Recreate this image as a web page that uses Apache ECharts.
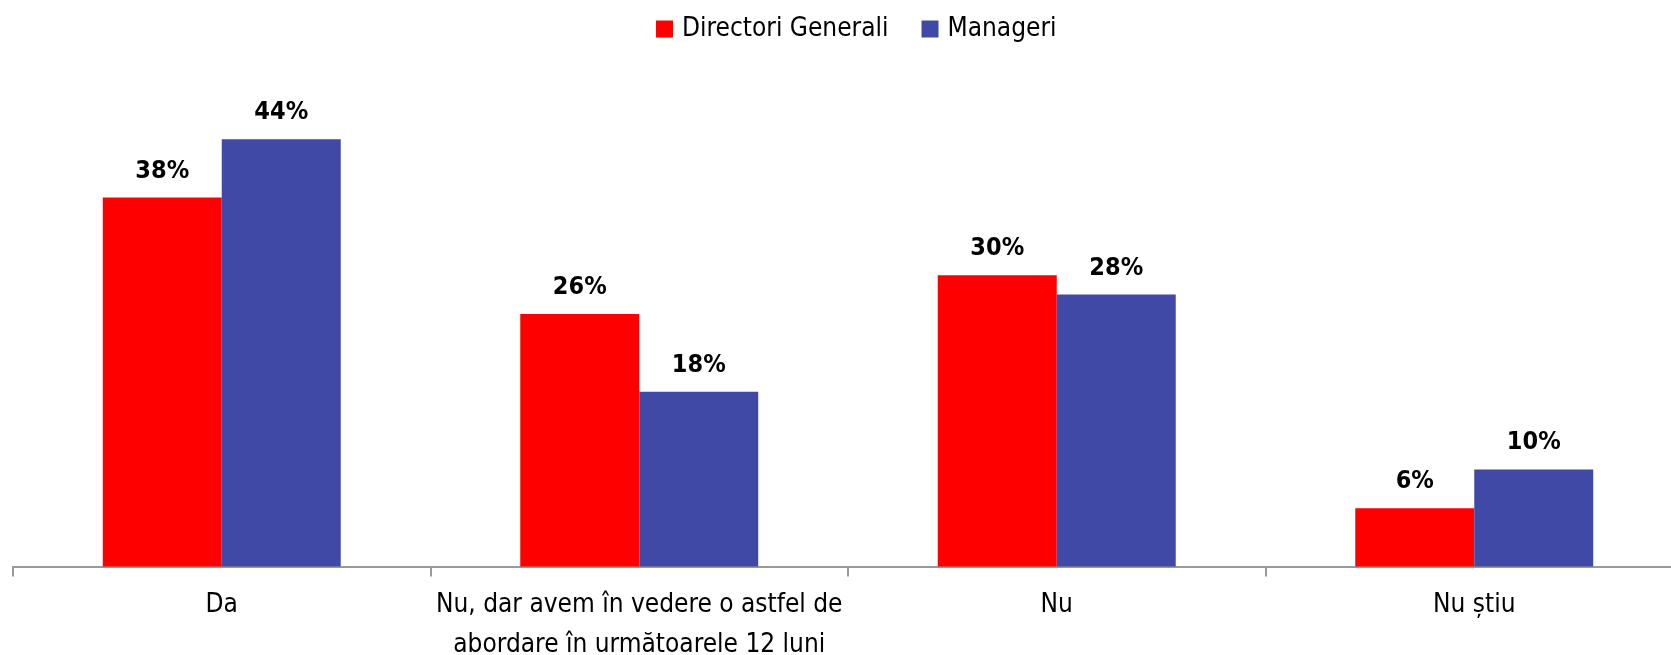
<!DOCTYPE html>
<html>
<head>
<meta charset="utf-8">
<script src="https://cdn.jsdelivr.net/npm/echarts@6/dist/echarts.min.js"></script>
<style>
  html, body { margin: 0; padding: 0; background: #fff; }
  #chart { width: 1671px; height: 655px; }
</style>
</head>
<body>
<div id="chart"></div>
<script>
// categorii si valori (%)
const categories = ['Da', 'Nu, dar avem în vedere o astfel de\nabordare în următoarele 12 luni', 'Nu', 'Nu știu'];
const directori = [38, 26, 30, 6];
const manageri = [44, 18, 28, 10];

const FONT = '"Liberation Sans Narrow", "DejaVu Sans Condensed", "Liberation Sans", sans-serif';

const chart = echarts.init(document.getElementById('chart'));

const labelStyle = {
  show: true,
  position: 'top',
  distance: 14,
  formatter: '{c}%',
  fontFamily: FONT,
  fontWeight: 'bold',
  fontSize: 25,
  color: '#000'
};

chart.setOption({
  animation: false,
  legend: {
    top: 16,
    left: 656,
    padding: 0,
    itemWidth: 17,
    itemHeight: 17,
    itemGap: 33,
    icon: 'rect',
    textStyle: { fontFamily: FONT, fontSize: 26, color: '#000', padding: [0, 0, 0, 4] },
    data: ['Directori Generali', 'Manageri']
  },
  grid: { left: 13, right: -12, top: 81, bottom: 88.5, containLabel: false, outerBoundsMode: 'none' },
  xAxis: {
    type: 'category',
    data: categories,
    axisLine: { lineStyle: { color: '#999', width: 2 } },
    axisTick: { show: true, interval: 0, length: 10, lineStyle: { color: '#999', width: 2 } },
    axisLabel: {
      interval: 0,
      fontFamily: FONT,
      fontSize: 26,
      lineHeight: 40,
      color: '#000',
      margin: 19
    }
  },
  yAxis: {
    type: 'value',
    min: 0,
    max: 50,
    show: false,
    splitLine: { show: false }
  },
  series: [
    {
      name: 'Directori Generali',
      type: 'bar',
      data: directori,
      barGap: '0%',
      barCategoryGap: '43%',
      itemStyle: { color: '#FF0000' },
      label: labelStyle
    },
    {
      name: 'Manageri',
      type: 'bar',
      data: manageri,
      itemStyle: { color: '#404AA6' },
      label: labelStyle
    }
  ]
});
</script>
</body>
</html>
